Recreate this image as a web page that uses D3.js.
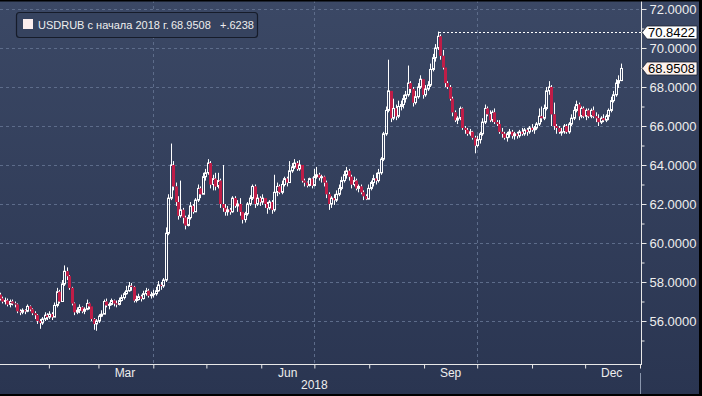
<!DOCTYPE html>
<html>
<head>
<meta charset="utf-8">
<script src="https://cdn.jsdelivr.net/npm/d3@7"></script>
<style>
  html, body { margin: 0; padding: 0; background: #000; }
  svg { display: block; font-family: "Liberation Sans", Arial, sans-serif; }
</style>
</head>
<body>
<svg id="chart" width="702" height="396"></svg>
<script>
// USDRUB daily candles, 2018 (weekdays from Jan 3)
var firstDay = new Date(2018, 0, 3);
var firstOpen = 57.60;

var closes = [
  57.35, 57.15, 57.00,
  57.05, 56.85, 57.00, 56.90, 56.85,
  56.50, 56.45, 56.55, 56.50, 56.75,
  56.60, 56.40, 56.30, 56.00, 55.90,
  56.10, 56.30, 56.20, 56.35, 56.20,
  56.80, 57.50, 57.00, 57.90, 58.55,
  58.30, 57.70, 56.90, 56.45, 56.55,
  56.70, 56.50, 56.60, 56.90, 56.75,
  56.10, 55.85, 56.00, 56.25, 56.35,
  57.00, 56.80, 56.85, 57.05, 56.90,
  56.85, 57.05, 57.20, 57.40, 57.55,
  57.80, 57.75, 57.05, 57.10, 57.25,
  57.15, 57.40, 57.55, 57.30, 57.35,
  57.40, 57.55, 57.85, 57.80, 58.10,
  60.50, 62.30, 64.00, 62.90, 62.10,
  61.40, 61.70, 61.30, 60.90, 61.30,
  61.90, 61.60, 62.20, 62.80, 62.50,
  63.40, 63.60, 64.10, 63.00, 63.30,
  62.90, 63.20, 62.00, 61.80, 61.60,
  61.70, 61.60, 62.30, 61.90, 62.00,
  61.60, 61.20, 61.50, 62.00, 62.30,
  62.90, 62.00, 62.30, 62.10, 62.30,
  62.00, 61.80, 62.10, 61.70, 62.60,
  62.90, 62.60, 63.00, 63.30, 63.10,
  63.70, 63.90, 64.10, 63.80, 64.00,
  63.20, 63.10, 62.95, 63.30, 62.95,
  63.40, 63.50, 63.35, 63.40, 63.10,
  62.50, 62.00, 62.30, 62.20, 62.50,
  62.80, 63.20, 63.50, 63.70, 63.40,
  63.00, 63.20, 62.80, 62.90, 62.60,
  62.40, 62.25, 62.80, 63.10, 63.30,
  63.20, 63.60, 64.30, 65.60, 66.80,
  67.80, 66.40, 66.90, 66.50, 67.00,
  67.10, 67.40, 67.60, 68.20, 67.90,
  67.20, 67.50, 68.00, 68.40, 67.60,
  67.90, 68.10, 68.90, 69.50, 70.00,
  70.60, 69.60, 69.00, 68.20, 68.00,
  67.40, 66.70, 66.30, 66.40, 66.90,
  65.90, 65.80, 65.60, 65.70, 65.40,
  65.00, 65.30, 65.60, 66.20, 66.90,
  66.60, 66.30, 66.70, 66.20, 66.10,
  65.70, 65.60, 65.40, 65.60, 65.70,
  65.50, 65.60, 65.50, 65.70, 65.60,
  65.80, 65.70, 65.90, 65.80, 65.90,
  66.10, 66.50, 66.40, 66.90, 67.80,
  68.00, 66.60, 66.00, 65.90, 65.70,
  65.70, 66.00, 65.70, 66.10, 66.40,
  66.80, 67.10, 66.50, 66.90, 66.50,
  66.80, 66.50, 66.80, 66.50, 66.40,
  66.20, 66.40, 66.30, 66.50, 66.80,
  67.30, 67.60, 68.20, 68.33, 68.9508
];

var highs = [
  57.70, 57.45, 57.25,
  57.20, 57.15, 57.10, 57.10, 57.00,
  56.90, 56.60, 56.65, 56.60, 56.85,
  56.80, 56.65, 56.50, 56.35, 56.10,
  56.20, 56.45, 56.40, 56.50, 56.45,
  56.95, 57.70, 57.60, 58.10, 58.85,
  58.75, 58.35, 57.75, 56.95, 56.70,
  56.85, 56.75, 56.70, 57.10, 56.95,
  56.75, 56.15, 56.10, 56.35, 56.55,
  57.10, 57.15, 56.95, 57.15, 57.10,
  57.05, 57.20, 57.35, 57.50, 57.80,
  58.00, 57.95, 57.80, 57.30, 57.40,
  57.35, 57.55, 57.70, 57.65, 57.50,
  57.60, 57.75, 58.05, 58.00, 58.20,
  60.80, 62.50, 65.10, 64.20, 63.10,
  62.40, 63.20, 61.80, 61.40, 61.45,
  62.10, 62.00, 62.30, 63.00, 62.90,
  63.60, 63.80, 64.30, 64.20, 63.50,
  63.60, 63.60, 63.30, 64.00, 62.00,
  61.90, 61.80, 62.40, 62.40, 62.20,
  62.30, 61.60, 61.60, 62.10, 62.45,
  63.00, 63.00, 62.50, 62.40, 62.50,
  62.30, 62.10, 62.20, 62.20, 63.50,
  63.10, 63.00, 63.20, 63.40, 63.40,
  64.20, 64.10, 64.30, 64.20, 64.25,
  64.00, 63.30, 63.15, 63.35, 63.35,
  63.80, 63.90, 63.60, 63.50, 63.45,
  63.20, 62.60, 62.40, 62.50, 62.70,
  63.00, 63.40, 63.70, 63.90, 63.80,
  63.50, 63.40, 63.30, 63.00, 63.00,
  62.70, 62.50, 63.00, 63.20, 63.50,
  63.60, 63.80, 64.40, 65.70, 67.00,
  69.40, 67.80, 67.40, 67.10, 67.30,
  67.30, 67.60, 67.80, 69.10, 68.30,
  68.00, 67.80, 68.20, 68.60, 68.40,
  68.10, 68.30, 69.20, 69.70, 70.20,
  70.8422, 70.70, 69.90, 69.00, 68.30,
  68.10, 67.50, 66.80, 66.50, 67.00,
  66.95, 66.00, 65.90, 65.85, 65.75,
  65.50, 65.50, 65.70, 66.40, 67.10,
  67.00, 66.80, 66.80, 66.90, 66.30,
  66.30, 65.90, 65.70, 65.70, 65.85,
  65.80, 65.70, 65.70, 65.80, 65.90,
  65.90, 65.90, 66.00, 66.10, 66.00,
  66.20, 66.90, 67.00, 67.10, 68.00,
  68.30, 68.10, 67.20, 66.10, 66.00,
  65.90, 66.10, 66.10, 66.20, 66.60,
  67.00, 67.30, 67.20, 67.00, 67.00,
  66.90, 66.90, 66.90, 67.00, 66.70,
  66.60, 66.50, 66.60, 66.60, 66.90,
  67.50, 67.80, 68.40, 68.60, 69.20
];

var lows = [
  57.20, 57.05, 56.90,
  56.85, 56.75, 56.70, 56.80, 56.70,
  56.40, 56.30, 56.35, 56.35, 56.45,
  56.50, 56.30, 56.10, 55.85, 55.60,
  55.80, 56.00, 56.05, 56.10, 56.05,
  56.20, 56.70, 56.90, 57.00, 57.80,
  58.10, 57.60, 56.80, 56.30, 56.35,
  56.40, 56.40, 56.35, 56.55, 56.60,
  56.00, 55.55, 55.50, 55.90, 56.20,
  56.35, 56.70, 56.60, 56.80, 56.75,
  56.70, 56.80, 57.00, 57.10, 57.35,
  57.50, 57.55, 56.95, 56.95, 57.05,
  57.00, 57.10, 57.30, 57.20, 57.15,
  57.20, 57.30, 57.50, 57.60, 57.70,
  58.00, 60.40, 62.20, 62.70, 61.90,
  61.20, 61.30, 61.00, 60.70, 60.85,
  61.20, 61.50, 61.60, 62.10, 62.30,
  62.50, 63.20, 63.50, 62.80, 62.70,
  62.70, 62.80, 61.80, 61.60, 61.40,
  61.40, 61.45, 61.55, 61.80, 61.60,
  61.40, 61.00, 61.05, 61.40, 61.90,
  62.20, 61.80, 61.90, 61.90, 61.95,
  61.80, 61.50, 61.70, 61.50, 61.60,
  62.40, 62.50, 62.50, 62.90, 62.90,
  63.10, 63.60, 63.80, 63.70, 63.70,
  63.10, 62.90, 62.85, 62.90, 62.80,
  62.90, 63.30, 63.20, 63.10, 62.90,
  62.30, 61.70, 61.80, 61.95, 62.10,
  62.40, 62.70, 63.10, 63.30, 63.20,
  62.80, 62.90, 62.70, 62.60, 62.50,
  62.20, 62.20, 62.30, 62.70, 62.90,
  63.00, 63.10, 63.50, 64.20, 65.50,
  66.70, 66.20, 66.30, 66.30, 66.40,
  66.80, 66.90, 67.20, 67.50, 67.70,
  67.00, 67.10, 67.40, 67.90, 67.40,
  67.50, 67.80, 68.00, 68.80, 69.30,
  69.90, 69.40, 68.90, 68.00, 67.90,
  67.30, 66.50, 66.20, 66.10, 66.30,
  65.80, 65.60, 65.50, 65.50, 65.30,
  64.60, 64.90, 65.10, 65.50, 66.10,
  66.50, 66.20, 66.20, 66.10, 66.00,
  65.60, 65.40, 65.30, 65.20, 65.40,
  65.35, 65.30, 65.35, 65.40, 65.50,
  65.50, 65.50, 65.60, 65.70, 65.60,
  65.80, 66.00, 66.20, 66.30, 66.80,
  67.60, 66.00, 65.80, 65.60, 65.60,
  65.50, 65.60, 65.60, 65.60, 66.00,
  66.30, 66.70, 66.30, 66.40, 66.40,
  66.30, 66.40, 66.40, 66.40, 66.20,
  66.00, 66.10, 66.20, 66.20, 66.30,
  66.70, 67.20, 67.50, 67.95, 68.30
];

var majorTicks = [56, 58, 60, 62, 64, 66, 68, 70, 72];
var minorTicks = [55, 57, 59, 61, 63, 65, 67, 69, 71];
var monthLabels = ["Mar", "Jun", "Sep", "Dec"];
var monthLabelDates = [new Date(2018, 2, 16), new Date(2018, 5, 16), new Date(2018, 8, 16), new Date(2018, 11, 16)];
var quarterLines = [new Date(2018, 3, 1), new Date(2018, 6, 1), new Date(2018, 9, 1)];
var yearLabel = "2018";
var seriesName = "USDRUB с начала 2018 г.";
var lastValue = 68.9508;
var lastChange = "+.6238";
var peakValue = 70.8422;

// trading days (weekdays)
var days = [];
var d = firstDay;
while (days.length < closes.length) {
  if (d.getDay() !== 0 && d.getDay() !== 6) days.push(d);
  d = d3.timeDay.offset(d, 1);
}
var candles = closes.map(function (c, i) {
  return { i: i, date: days[i], o: i === 0 ? firstOpen : closes[i - 1], h: highs[i], l: lows[i], c: c };
});

var W = 702, H = 396;
var plotRight = 641, axisY = 364;
var svg = d3.select("#chart");

var defs = svg.append("defs");
var grad = defs.append("linearGradient").attr("id", "bg")
  .attr("gradientUnits", "userSpaceOnUse")
  .attr("x1", 0).attr("y1", 0).attr("x2", 0).attr("y2", H);
grad.append("stop").attr("offset", "0%").attr("stop-color", "#3b4865");
grad.append("stop").attr("offset", "100%").attr("stop-color", "#2a3551");
defs.append("clipPath").attr("id", "plotClip")
  .append("rect").attr("x", 0).attr("y", 0).attr("width", plotRight).attr("height", axisY);

svg.append("rect").attr("width", W).attr("height", H).attr("fill", "url(#bg)");

var x = d3.scaleTime()
  .domain([new Date(2018, 0, 1), new Date(2019, 0, 1)])
  .range([-6, 640]);
var y = d3.scaleLinear().domain([54, 72]).range([360, 9]);
var xi = d3.scaleLinear()
  .domain([0, candles.length - 1])
  .range([x(days[0]), x(days[days.length - 1])]);

// grid
var grid = svg.append("g").attr("stroke", "#5d6c8a").attr("stroke-dasharray", "3,3").attr("stroke-width", 1);
grid.selectAll("line.h").data(majorTicks).enter().append("line")
  .attr("x1", 0).attr("x2", plotRight)
  .attr("y1", function (v) { return Math.round(y(v)) + 0.5; })
  .attr("y2", function (v) { return Math.round(y(v)) + 0.5; });
grid.selectAll("line.v").data(quarterLines).enter().append("line")
  .attr("y1", 0).attr("y2", axisY)
  .attr("x1", function (t) { return Math.round(x(t)) + 0.5; })
  .attr("x2", function (t) { return Math.round(x(t)) + 0.5; });

// candles
var plot = svg.append("g").attr("clip-path", "url(#plotClip)");
var cg = plot.selectAll("g.candle").data(candles).enter().append("g");
function cx(i) { return Math.round(xi(i)); }
cg.append("line")
  .attr("x1", function (k) { return cx(k.i) + 0.5; })
  .attr("x2", function (k) { return cx(k.i) + 0.5; })
  .attr("y1", function (k) { return y(k.h); })
  .attr("y2", function (k) { return y(Math.max(k.o, k.c)); })
  .attr("stroke", "#ffffff");
cg.append("line")
  .attr("x1", function (k) { return cx(k.i) + 0.5; })
  .attr("x2", function (k) { return cx(k.i) + 0.5; })
  .attr("y1", function (k) { return y(Math.min(k.o, k.c)); })
  .attr("y2", function (k) { return y(k.l); })
  .attr("stroke", "#ffffff");
cg.filter(function (k) { return k.c >= k.o; }).append("rect")
  .attr("x", function (k) { return cx(k.i) - 0.5; })
  .attr("width", 2)
  .attr("y", function (k) { return y(k.c); })
  .attr("height", function (k) { return Math.max(1, y(k.o) - y(k.c)); })
  .attr("fill", "none")
  .attr("stroke", "#ffffff");
cg.filter(function (k) { return k.c < k.o; }).append("rect")
  .attr("x", function (k) { return cx(k.i) - 1; })
  .attr("width", 3)
  .attr("y", function (k) { return y(k.o); })
  .attr("height", function (k) { return Math.max(1, y(k.c) - y(k.o)); })
  .attr("fill", "#bf1d47");

// peak dotted line
var peakIdx = highs.indexOf(peakValue);
svg.append("line")
  .attr("x1", cx(peakIdx) + 1).attr("x2", plotRight)
  .attr("y1", Math.round(y(peakValue)) + 0.5).attr("y2", Math.round(y(peakValue)) + 0.5)
  .attr("stroke", "#ffffff").attr("stroke-dasharray", "2,2");

// right axis
svg.append("line").attr("x1", plotRight + 0.5).attr("x2", plotRight + 0.5)
  .attr("y1", 0).attr("y2", axisY).attr("stroke", "#e8e8e8");
var yAxis = svg.append("g").attr("transform", "translate(" + (plotRight + 0.5) + ",0)")
  .call(d3.axisRight(y).tickValues(majorTicks).tickSize(5).tickPadding(3).tickFormat(d3.format(".4f")));
yAxis.select(".domain").remove();
yAxis.selectAll("line").attr("stroke", "#e8e8e8");
yAxis.selectAll("text").attr("fill", "#eeeeee").style("font-size", "13px")
  .style("font-family", "'Liberation Sans', Arial, sans-serif");
var yMinor = svg.append("g").attr("transform", "translate(" + (plotRight + 0.5) + ",0)")
  .call(d3.axisRight(y).tickValues(minorTicks).tickSize(3).tickFormat(""));
yMinor.select(".domain").remove();
yMinor.selectAll("line").attr("stroke", "#e8e8e8");

// value flags
function flag(v, fill) {
  var yy = Math.round(y(v)) + 0.5;
  svg.append("path")
    .attr("d", "M" + (plotRight + 1) + "," + yy + " L" + (plotRight + 6) + "," + (yy - 6.5) +
      " L697," + (yy - 6.5) + " L697," + (yy + 6.5) + " L" + (plotRight + 6) + "," + (yy + 6.5) + " Z")
    .attr("fill", fill).attr("stroke", "#1d2433").attr("stroke-width", 0.8);
  svg.append("text").attr("x", plotRight + 7).attr("y", yy + 4.5)
    .attr("fill", "#000").style("font-size", "13px").text(d3.format(".4f")(v));
}
flag(peakValue, "#ffffff");
flag(lastValue, "#fdf1ec");

// bottom axis
svg.append("line").attr("x1", 0).attr("x2", plotRight + 1)
  .attr("y1", axisY + 0.5).attr("y2", axisY + 0.5).attr("stroke", "#e8e8e8");
var xAxis = svg.append("g").attr("transform", "translate(0," + (axisY + 0.5) + ")")
  .call(d3.axisBottom(x).ticks(d3.timeMonth.every(1)).tickSize(4).tickFormat(""));
xAxis.select(".domain").remove();
xAxis.selectAll("line").attr("stroke", "#e8e8e8");
svg.selectAll("text.month").data(monthLabels).enter().append("text")
  .attr("x", function (m, i) { return x(monthLabelDates[i]); })
  .attr("y", axisY + 13)
  .attr("text-anchor", "middle").attr("fill", "#eeeeee").style("font-size", "12px")
  .text(function (m) { return m; });
svg.append("text").attr("x", x(new Date(2018, 6, 1))).attr("y", axisY + 25)
  .attr("text-anchor", "middle").attr("fill", "#eeeeee").style("font-size", "12px").text(yearLabel);
svg.append("line").attr("x1", plotRight - 0.5).attr("x2", plotRight - 0.5)
  .attr("y1", axisY + 9).attr("y2", H).attr("stroke", "#8a96ad");

// legend
svg.append("rect").attr("x", 16.5).attr("y", 12.5).attr("width", 241).attr("height", 25).attr("rx", 3)
  .attr("fill", "#36435f").attr("stroke", "#161c2a").attr("stroke-width", 1.2);
svg.append("rect").attr("x", 23).attr("y", 19).attr("width", 10).attr("height", 10).attr("fill", "#fbeeee");
svg.append("text").attr("x", 38).attr("y", 28.5).attr("fill", "#eeeeee").style("font-size", "11px").text(seriesName);
svg.append("text").attr("x", 171).attr("y", 28.5).attr("fill", "#eeeeee").style("font-size", "11px").text(d3.format(".4f")(lastValue));
svg.append("text").attr("x", 220).attr("y", 28.5).attr("fill", "#eeeeee").style("font-size", "11px").text(lastChange);

// black frame
svg.append("rect").attr("x", 0).attr("y", 0).attr("width", W).attr("height", 1.5).attr("fill", "#000");
svg.append("rect").attr("x", 699).attr("y", 0).attr("width", 3).attr("height", H).attr("fill", "#000");
svg.append("rect").attr("x", 0).attr("y", 394).attr("width", W).attr("height", 2).attr("fill", "#000");
</script>
</body>
</html>
